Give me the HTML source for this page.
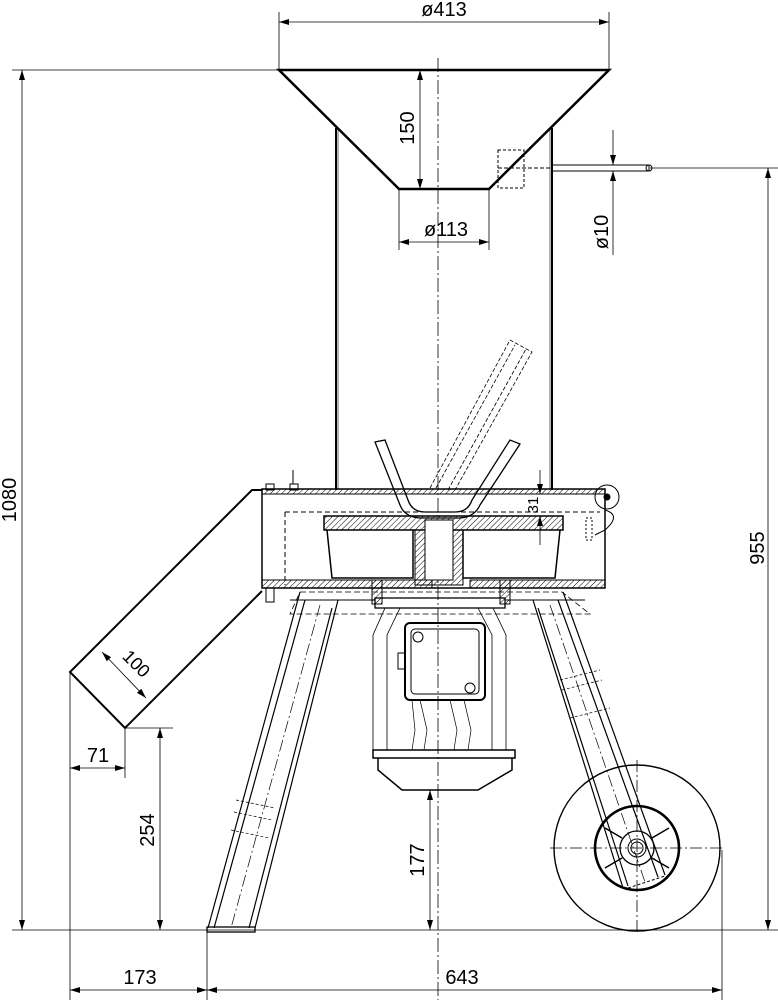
<!DOCTYPE html>
<html><head><meta charset="utf-8"><style>html,body{margin:0;padding:0;background:#fff}svg{display:block}</style></head><body>
<svg width="778" height="1000" viewBox="0 0 778 1000" xmlns="http://www.w3.org/2000/svg" font-family="Liberation Sans, sans-serif">
<defs>
<pattern id="h" width="4" height="4" patternUnits="userSpaceOnUse" patternTransform="rotate(45)"><line x1="0" y1="0" x2="0" y2="4" stroke="#000" stroke-width="1"/></pattern>
<marker id="a" viewBox="0 0 10 6" refX="10" refY="3" markerWidth="10" markerHeight="6" orient="auto-start-reverse" markerUnits="userSpaceOnUse"><path d="M0,0L10,3L0,6z" fill="#000"/></marker>
</defs>
<g stroke="#000" fill="none" stroke-width="1">
<path d="M279,70H609L489,189H399Z" stroke-width="2.5"/>
<line x1="336" y1="128" x2="336" y2="490" stroke-width="2"/><line x1="338" y1="130" x2="338" y2="490" stroke-width="0.6"/>
<line x1="552" y1="128" x2="552" y2="490" stroke-width="2"/><line x1="550" y1="130" x2="550" y2="490" stroke-width="0.6"/>
<line x1="438" y1="58" x2="438" y2="1000" stroke-dasharray="14,3,2,3" stroke-width="0.8"/>
<rect x="552" y="165" width="97" height="6"/><circle cx="649" cy="168" r="3"/>
<rect x="498" y="150" width="26" height="38" stroke-dasharray="3,2"/>
<line x1="498" y1="168" x2="552" y2="168" stroke-dasharray="4,2"/>
<g stroke-dasharray="4,2" stroke-width="0.8">
<path d="M430,488L510,340L532,352L455,490"/><path d="M436,488L515,345"/><path d="M448,490L526,349"/>
</g>
<path d="M262,489H605V588H262Z" stroke-width="1.5"/>
<rect x="262" y="489" width="343" height="5" fill="url(#h)"/>
<rect x="262" y="580" width="170" height="8" fill="url(#h)"/>
<rect x="470" y="580" width="135" height="8" fill="url(#h)"/>
<path d="M285,512H600" stroke-dasharray="5,3"/><path d="M285,512V585" stroke-dasharray="5,3"/>
<rect x="324" y="516" width="239" height="14" fill="url(#h)" stroke-width="1.5"/>
<path d="M327,530L332,578H413V530M463,530V578H555L560,530" stroke-width="1.5"/>
<rect x="415" y="530" width="48" height="55" fill="url(#h)"/>
<rect x="425" y="520" width="28" height="60" fill="#fff"/>
<path d="M375,442L385,440L408,500Q412,512 425,512H455Q468,512 472,500L510,440L520,444L480,505Q474,518 458,518H422Q405,518 400,505Z" stroke-width="1.3"/>
<circle cx="607" cy="497" r="12"/><circle cx="607" cy="497" r="3" fill="#000"/>
<path d="M605,510Q622,515 605,530L595,535" />
<rect x="586" y="518" width="6" height="22" stroke-dasharray="2,2"/>
<rect x="266" y="484" width="8" height="6"/><rect x="290" y="484" width="8" height="6"/><line x1="293" y1="470" x2="293" y2="484"/>
<rect x="266" y="588" width="8" height="14"/>
<rect x="372" y="580" width="10" height="24" fill="url(#h)"/><rect x="500" y="580" width="10" height="24" fill="url(#h)"/>
<path d="M262,490H252L70,672L125,728L262,591" stroke-width="2"/>
<path d="M300,592H562L590,614H290Z" stroke-dasharray="6,3" stroke-width="0.8"/>
<path d="M290,600H375M505,600H585" stroke-width="1"/>
<!-- left leg -->
<path d="M300,592L208,928M338,600L255,928M305,600L214,928M332,608L249,928" stroke-width="1.2"/>
<path d="M320,605L231,928" stroke-dasharray="12,3,2,3" stroke-width="0.7"/>
<rect x="207" y="927" width="48" height="5" stroke-width="1.3"/>
<path d="M236,800L275,808M234,812L272,820M231,830L269,838" stroke-dasharray="3,2" stroke-width="0.7"/>
<!-- right leg -->
<path d="M563,592L665,875M533,600L623,888M558,600L658,877M538,608L628,886" stroke-width="1.2"/>
<path d="M550,605L645,882" stroke-dasharray="12,3,2,3" stroke-width="0.7"/>
<path d="M560,680L600,670M562,690L602,680M570,718L610,708" stroke-dasharray="3,2" stroke-width="0.7"/>
<circle cx="637" cy="848" r="83" stroke-width="1.4"/>
<circle cx="637" cy="848" r="42" stroke-width="2.6"/>
<circle cx="637" cy="848" r="17" stroke-width="1.3"/><circle cx="637" cy="848" r="9"/><circle cx="637" cy="848" r="6"/>
<path d="M605,828L622,838M669,828L652,838M605,868L622,858M669,868L652,858" stroke-width="1.5"/>
<line x1="550" y1="848" x2="725" y2="848" stroke-dasharray="12,3,2,3" stroke-width="0.8"/>
<line x1="637" y1="760" x2="637" y2="935" stroke-dasharray="12,3,2,3" stroke-width="0.8"/>
<path d="M628,888L665,876" stroke-dasharray="3,2"/>
<rect x="375" y="598" width="130" height="10" stroke-width="1.3"/>
<path d="M385,608L373,635V750M400,608L387,635V750M493,608L506,635V750M478,608L492,635V750" stroke-width="0.8"/>
<rect x="405" y="623" width="80" height="77" rx="5" stroke-width="2"/>
<rect x="411" y="629" width="68" height="65" rx="4"/>
<rect x="398" y="653" width="7" height="16"/>
<circle cx="418" cy="637" r="5"/><circle cx="470" cy="688" r="5"/>
<path d="M412,700L415,730L412,750M420,700L427,730L424,750M450,700L457,730L454,750M464,700L471,730L468,750" stroke-width="0.7"/>
<rect x="373" y="750" width="142" height="8" stroke-width="1.5"/>
<path d="M378,758V770L402,790H478L512,770V758" stroke-width="1.5"/>
</g>
<g stroke="#000" stroke-width="0.8" fill="none">
<line x1="279" y1="12" x2="279" y2="70"/><line x1="609" y1="12" x2="609" y2="70"/>
<line x1="279" y1="22" x2="609" y2="22" marker-start="url(#a)" marker-end="url(#a)"/>
<line x1="12" y1="70" x2="279" y2="70"/><line x1="12" y1="930" x2="778" y2="930"/>
<line x1="22" y1="70" x2="22" y2="930" marker-start="url(#a)" marker-end="url(#a)"/>
<line x1="420" y1="70" x2="420" y2="189" marker-start="url(#a)" marker-end="url(#a)"/>
<line x1="399" y1="189" x2="399" y2="250"/><line x1="489" y1="189" x2="489" y2="250"/>
<line x1="399" y1="242" x2="489" y2="242" marker-start="url(#a)" marker-end="url(#a)"/>
<line x1="613" y1="130" x2="613" y2="165" marker-end="url(#a)"/><line x1="613" y1="205" x2="613" y2="171" marker-end="url(#a)"/><line x1="613" y1="205" x2="613" y2="255"/>
<line x1="650" y1="168" x2="778" y2="168"/>
<line x1="768" y1="168" x2="768" y2="930" marker-start="url(#a)" marker-end="url(#a)"/>
<line x1="540" y1="470" x2="540" y2="494" marker-end="url(#a)"/><line x1="540" y1="545" x2="540" y2="516" marker-end="url(#a)"/>
<line x1="102" y1="652" x2="146" y2="698" marker-start="url(#a)" marker-end="url(#a)"/>
<line x1="70" y1="672" x2="70" y2="1000"/><line x1="125" y1="728" x2="125" y2="778"/>
<line x1="70" y1="768" x2="125" y2="768" marker-start="url(#a)" marker-end="url(#a)"/>
<line x1="125" y1="728" x2="173" y2="728"/>
<line x1="160" y1="728" x2="160" y2="930" marker-start="url(#a)" marker-end="url(#a)"/>
<line x1="430" y1="790" x2="430" y2="930" marker-start="url(#a)" marker-end="url(#a)"/>
<line x1="207" y1="930" x2="207" y2="1000"/><line x1="722" y1="850" x2="722" y2="1000"/>
<line x1="70" y1="990" x2="207" y2="990" marker-start="url(#a)" marker-end="url(#a)"/>
<line x1="207" y1="990" x2="722" y2="990" marker-start="url(#a)" marker-end="url(#a)"/>
</g>
<g font-size="20" fill="#000" text-anchor="middle">
<text x="444" y="16">ø413</text>
<text x="446" y="236">ø113</text>
<text x="140" y="984">173</text>
<text x="462" y="984">643</text>
<text x="98" y="762">71</text>
<text transform="translate(16,500) rotate(-90)">1080</text>
<text transform="translate(414,128) rotate(-90)">150</text>
<text transform="translate(608,232) rotate(-90)">ø10</text>
<text transform="translate(764,548) rotate(-90)">955</text>
<text transform="translate(154,830) rotate(-90)">254</text>
<text transform="translate(424,860) rotate(-90)">177</text>
<text transform="translate(538,505) rotate(-90)" font-size="15">31</text>
<text transform="translate(132,668) rotate(45)" font-size="18">100</text>
</g>
</svg>
</body></html>
